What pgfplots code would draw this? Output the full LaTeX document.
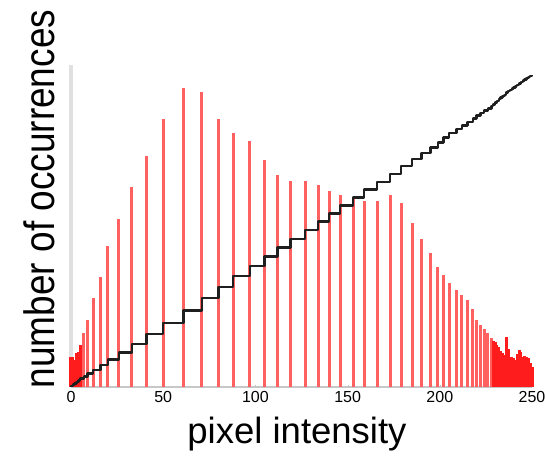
\documentclass[border=0pt]{standalone}
\usepackage{fontspec}
\setmainfont{Liberation Sans}
\usepackage{pgfplots}
\pgfplotsset{compat=1.18}
\definecolor{barred}{RGB}{255,96,96}
\definecolor{densered}{RGB}{255,28,28}
\definecolor{axisgray}{RGB}{224,224,224}
\begin{document}
\begin{tikzpicture}
\path[use as bounding box] (-71pt,-68pt) rectangle (474pt,387pt);
\begin{axis}[
  at={(0,0)}, anchor=south west, scale only axis,
  width=461pt, height=322pt,
  xmin=0, xmax=250, ymin=0, ymax=322,
  axis lines=left,
  axis line style={-},
  x axis line style={-, draw=black!22, line width=1.2pt},
  y axis line style={-, draw=axisgray, line width=3.5pt},
  xtick={0,50,...,250}, ytick=\empty,
  xticklabel style={font=\fontsize{16}{19}\selectfont, text=black,
    inner sep=0pt, anchor=north, yshift=-4pt},
  major tick length=2pt, tick style={black!25}, tick align=inside,
  clip=false,
  /pgf/number format/assume math mode=true,
]
% histogram: isolated spikes
\addplot[ycomb, draw=barred, line width=3pt, mark=none] coordinates {
  (7,54) (9,67) (12,89) (16,110) (20,141) (26,168) (33,200) (41,231)
  (50,268) (61,299) (71,295) (80,268) (88,254) (97,246) (105,227)
  (112,212) (119,206) (127,206) (134,202) (140,196) (146,192) (153,189)
  (159,186) (166,186) (173,192) (179,184) (185,164) (190,148) (195,134)
  (199,120) (202,112) (205,104) (209,97) (212,92) (215,87) (218,78)
  (220,67) (222,62) (224,58) (226,54) (228,49)
};
% histogram: densely packed bins at both ends
\addplot[ycomb, draw=densered, line width=3pt, mark=none] coordinates {
  (0,30) (1,30) (2,27) (3,34) (4,35) (5,42)
  (229,46) (230,45) (231,42) (232,40) (233,36) (234,34) (235,32)
  (236,50) (237,38) (238,28) (239,30) (240,29) (241,27) (242,33)
  (243,37) (244,35) (245,30) (246,31) (247,30) (248,29) (249,24) (250,20)
};
% cumulative count (scaled)
\addplot[const plot, draw=black!88, line width=2.4pt, line join=round, mark=none] coordinates {
  (0,0) (0,1.26) (1,2.52) (2,3.65) (3,5.08) (4,6.54) (5,8.31) (7,10.57)
  (9,13.38) (12,17.11) (16,21.73) (20,27.64) (26,34.69) (33,43.08)
  (41,52.77) (50,64.01) (61,76.55) (71,88.93) (80,100.17) (88,110.82)
  (97,121.14) (105,130.67) (112,139.56) (119,148.20) (127,156.84)
  (134,165.31) (140,173.53) (146,181.59) (153,189.51) (159,197.32)
  (166,205.12) (173,213.17) (179,220.89) (185,227.77) (190,233.98)
  (195,239.60) (199,244.64) (202,249.33) (205,253.70) (209,257.76)
  (212,261.62) (215,265.27) (218,268.55) (220,271.35) (222,273.96)
  (224,276.39) (226,278.65) (228,280.71) (229,282.64) (230,284.53)
  (231,286.29) (232,287.97) (233,289.48) (234,290.90) (235,292.24)
  (236,294.34) (237,295.93) (238,297.11) (239,298.37) (240,299.58)
  (241,300.72) (242,302.10) (243,303.65) (244,305.12) (245,306.38)
  (246,307.68) (247,308.94) (248,310.15) (249,311.16) (250,312.00)
};
\end{axis}
\node[anchor=base, inner sep=0pt, font=\fontsize{36.5}{42}\selectfont]
  at (226pt,-56pt) {pixel intensity};
\node[rotate=90, yscale=1.15, anchor=base, inner sep=0pt,
  font=\fontsize{37}{42}\selectfont]
  at (-16pt,188pt) {number of occurrences};
\end{tikzpicture}
\end{document}
